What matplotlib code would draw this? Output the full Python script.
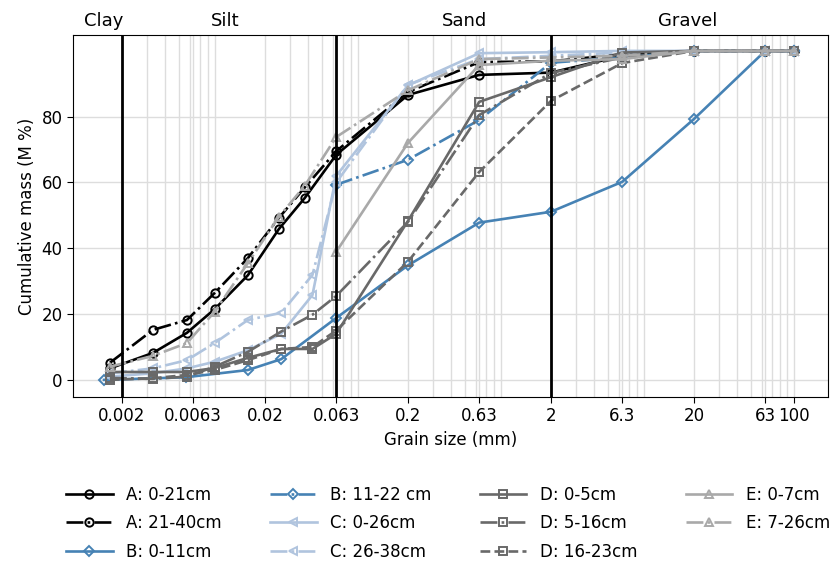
import matplotlib
matplotlib.use("Agg")
import matplotlib.pyplot as plt
from matplotlib.ticker import FixedLocator, LogLocator, NullFormatter, FixedFormatter

plt.rcParams['font.family'] = ['DejaVu Sans']

# ---------------- data ----------------
x_hyd_A = [0.00165, 0.0033, 0.0057, 0.0089, 0.0152, 0.025, 0.038]
x_hyd_D = [0.00165, 0.0033, 0.0057, 0.0089, 0.0152, 0.026, 0.043]
x_sieve = [0.063, 0.2, 0.63, 2, 6.3, 20, 63, 100]

a1_x = x_hyd_A + x_sieve
a1_y = [3.5, 8.2, 14.3, 21.5, 31.8, 45.8, 55.3, 68.4, 86.6, 92.7, 93.4, 98.5, 100, 100, 100]
a2_x = x_hyd_A + x_sieve
a2_y = [5.2, 15.2, 18.2, 26.4, 37.0, 49.2, 58.5, 69.5, 87.5, 96.6, 96.8, 99.0, 100, 100, 100]

b1_x = [0.0015, 0.0056, 0.0152, 0.026] + x_sieve
b1_y = [0.0, 0.8, 3.0, 6.3, 18.8, 34.8, 47.8, 51.1, 60.2, 79.3, 100, 100]
b2_x = x_sieve
b2_y = [59.3, 66.9, 79.0, 96.4, 98.0, 100, 100, 100]

c1_x = x_hyd_D + x_sieve
c1_y = [1.0, 2.0, 3.5, 5.5, 9.0, 14.0, 25.8, 62.0, 89.5, 99.3, 99.6, 100, 100, 100, 100]
c2_x = x_hyd_D + x_sieve
c2_y = [2.0, 3.5, 6.0, 11.2, 18.2, 20.4, 31.9, 60.0, 89.7, 97.5, 98.5, 99.5, 100, 100, 100]

d1_x = x_hyd_D + x_sieve
d1_y = [2.4, 2.4, 2.4, 3.6, 6.7, 9.4, 9.4, 14.0, 48.3, 84.5, 92.0, 99.5, 100, 100, 100]
d2_x = x_hyd_D + x_sieve
d2_y = [0.6, 0.3, 1.0, 4.0, 8.5, 14.7, 19.8, 25.5, 48.0, 80.5, 93.3, 98.0, 100, 100, 100]
d3_x = x_hyd_D + x_sieve
d3_y = [0.0, 0.5, 1.5, 3.0, 6.0, 9.4, 10.0, 15.0, 35.9, 63.2, 84.8, 96.3, 100, 100, 100]

e1_x = x_sieve
e1_y = [38.9, 72.0, 95.7, 97.0, 97.5, 100, 100, 100]
e2_x = x_hyd_A + x_sieve
e2_y = [4.0, 7.3, 11.2, 20.7, 35.5, 49.5, 59.0, 73.8, 88.0, 97.5, 98.0, 98.5, 100, 100, 100]

labels = ["A: 0-21cm", "A: 21-40cm", "B: 0-11cm", "B: 11-22 cm", "C: 0-26cm",
          "C: 26-38cm", "D: 0-5cm", "D: 5-16cm", "D: 16-23cm", "E: 0-7cm", "E: 7-26cm"]
xticks = [0.002, 0.0063, 0.02, 0.063, 0.2, 0.63, 2, 6.3, 20, 63, 100]
xticklabels = ["0.002", "0.0063", "0.02", "0.063", "0.2", "0.63", "2", "6.3", "20", "63", "100"]
yticks = [0, 20, 40, 60, 80]
boundaries = [0.002, 0.063, 2]
classes = ["Clay", "Silt", "Sand", "Gravel"]
class_x = [0.0015, 0.0105, 0.5, 18]

# ---------------- style ----------------
black = "black"
blue = "#4682B4"
lblue = "#B0C4DE"
dgray = "#696969"
lgray = "#A9A9A9"

series = [
    (a1_x, a1_y, black, "-", "o"),
    (a2_x, a2_y, black, "-.", "o"),
    (b1_x, b1_y, blue, "-", "D"),
    (b2_x, b2_y, blue, "-.", "D"),
    (c1_x, c1_y, lblue, "-", "<"),
    (c2_x, c2_y, lblue, "-.", "<"),
    (d1_x, d1_y, dgray, "-", "s"),
    (d2_x, d2_y, dgray, "-.", "s"),
    (d3_x, d3_y, dgray, "--", "s"),
    (e1_x, e1_y, lgray, "-", "^"),
    (e2_x, e2_y, lgray, "-.", "^"),
]

fig = plt.figure(figsize=(8.31, 5.66), dpi=100)
ax = fig.add_axes([0.0878, 0.2986, 0.9086, 0.6394])

for (xs, ys, c, ls, m), lab in zip(series, labels):
    ms = 5 if m == "D" else 6
    ax.plot(xs, ys, color=c, linestyle=ls, marker=m, markersize=ms, fillstyle="none",
            markeredgewidth=1.4, linewidth=1.9, label=lab)

for b in boundaries:
    ax.axvline(b, color="black", linewidth=2, zorder=5)

ax.set_xscale("log")
ax.set_xlim(0.00091, 173)
ax.set_ylim(-5.2, 104.8)
ax.xaxis.set_major_locator(FixedLocator(xticks))
ax.xaxis.set_major_formatter(FixedFormatter(xticklabels))
ax.xaxis.set_minor_locator(LogLocator(base=10, subs=[2, 3, 4, 5, 6, 7, 8, 9], numticks=20))
ax.xaxis.set_minor_formatter(NullFormatter())
ax.set_yticks(yticks)
ax.tick_params(which="minor", length=0)
ax.tick_params(which="major", labelsize=12, length=4)
ax.grid(True, which="both", color="#dddddd", linewidth=1)
ax.set_axisbelow(True)

ax.set_xlabel("Grain size (mm)", fontsize=12)
ax.set_ylabel("Cumulative mass (M %)", fontsize=12)

for name, cx in zip(classes, class_x):
    ax.text(cx, 1.015, name, transform=ax.get_xaxis_transform(), ha="center",
            va="bottom", fontsize=13)

fig.legend(loc="lower center", bbox_to_anchor=(0.539, -0.017), ncol=4, frameon=False,
           fontsize=12, handlelength=2.8, columnspacing=2.9, labelspacing=0.62)

fig.savefig("out.png", dpi=100)
